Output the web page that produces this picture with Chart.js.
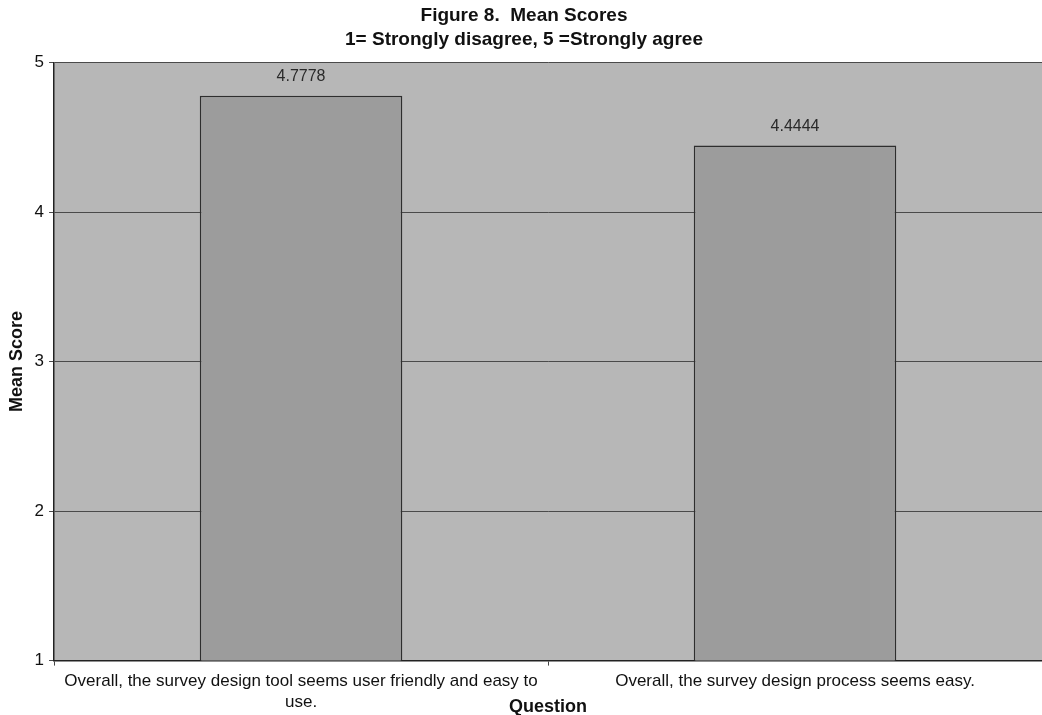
<!DOCTYPE html>
<html>
<head>
<meta charset="utf-8">
<script src="https://cdn.jsdelivr.net/npm/chart.js@4.4.0/dist/chart.umd.min.js"></script>
<style>
  html, body { margin: 0; padding: 0; background: #ffffff; }
  #wrap { width: 1042px; height: 715px; }
</style>
</head>
<body>
<div id="wrap"><canvas id="meanScores"></canvas></div>
<script>
// chart data
var questions = [
  ["Overall, the survey design tool seems user friendly and easy to", "use."],
  "Overall, the survey design process seems easy."
];
var meanScores = [4.7778, 4.4444];
var yTicks = [1, 2, 3, 4, 5];

// grey plot area + value labels above the bars
var plotBackground = {
  id: 'plotBackground',
  beforeDraw: function (chart) {
    var ctx = chart.ctx, a = chart.chartArea;
    ctx.save();
    ctx.fillStyle = '#b7b7b7';
    ctx.fillRect(a.left, a.top, a.right - a.left, a.bottom - a.top);
    ctx.restore();
  }
};
var valueLabels = {
  id: 'valueLabels',
  afterDatasetsDraw: function (chart) {
    var ctx = chart.ctx;
    var meta = chart.getDatasetMeta(0);
    ctx.save();
    ctx.font = '16px "Liberation Sans", Arial, sans-serif';
    ctx.fillStyle = '#2a2a2a';
    ctx.textAlign = 'center';
    ctx.textBaseline = 'bottom';
    meta.data.forEach(function (bar, i) {
      ctx.fillText(meanScores[i].toFixed(4), bar.x, bar.y - 11);
    });
    ctx.restore();
  }
};

var FONT = '"Liberation Sans", Arial, sans-serif';
var ctxMean = document.getElementById("meanScores");
var meanScoresConfig = {
  type: 'bar',
  data: {
    labels: questions,
    datasets: [{
      data: meanScores,
      backgroundColor: '#9c9c9c',
      borderColor: '#2e2e2e',
      borderWidth: 1.5,
      barPercentage: 0.41,
      categoryPercentage: 1.0
    }]
  },
  options: {
    responsive: true,
    maintainAspectRatio: false,
    animation: false,
    layout: { padding: { left: 6, right: 0, top: 0, bottom: 0 } },
    plugins: {
      legend: { display: false },
      tooltip: { enabled: false },
      title: {
        display: true,
        text: ['Figure 8.  Mean Scores', '1= Strongly disagree, 5 =Strongly agree'],
        color: '#111',
        font: { family: FONT, size: 19, weight: 'bold', lineHeight: 1.25 },
        padding: { top: 4, bottom: 11 }
      }
    },
    scales: {
      y: {
        min: 1,
        max: 5,
        afterBuildTicks: function (axis) {
          axis.ticks = yTicks.map(function (v) { return { value: v }; });
        },
        ticks: {
          color: '#111',
          padding: 5,
          font: { family: FONT, size: 17 }
        },
        grid: {
          color: '#4a4a4a',
          lineWidth: 1,
          tickLength: 5,
          drawTicks: true
        },
        border: { display: true, color: '#222', width: 1.5 },
        title: {
          display: true,
          text: 'Mean Score',
          color: '#111',
          font: { family: FONT, size: 18, weight: 'bold' },
          padding: { top: 0, bottom: 2 }
        }
      },
      x: {
        ticks: {
          color: '#111',
          maxRotation: 0,
          autoSkip: false,
          padding: 6,
          font: { family: FONT, size: 17, lineHeight: 1.2 }
        },
        grid: {
          drawOnChartArea: false,
          color: '#444',
          tickLength: 5
        },
        border: { display: true, color: '#222', width: 1.5 },
        title: {
          display: true,
          text: 'Question',
          color: '#111',
          font: { family: FONT, size: 18, weight: 'bold' },
          padding: { top: -22, bottom: -3 }
        }
      }
    }
  },
  plugins: [plotBackground, valueLabels]
};
var meanScoresChart = new Chart(ctxMean, meanScoresConfig);
</script>
</body>
</html>
